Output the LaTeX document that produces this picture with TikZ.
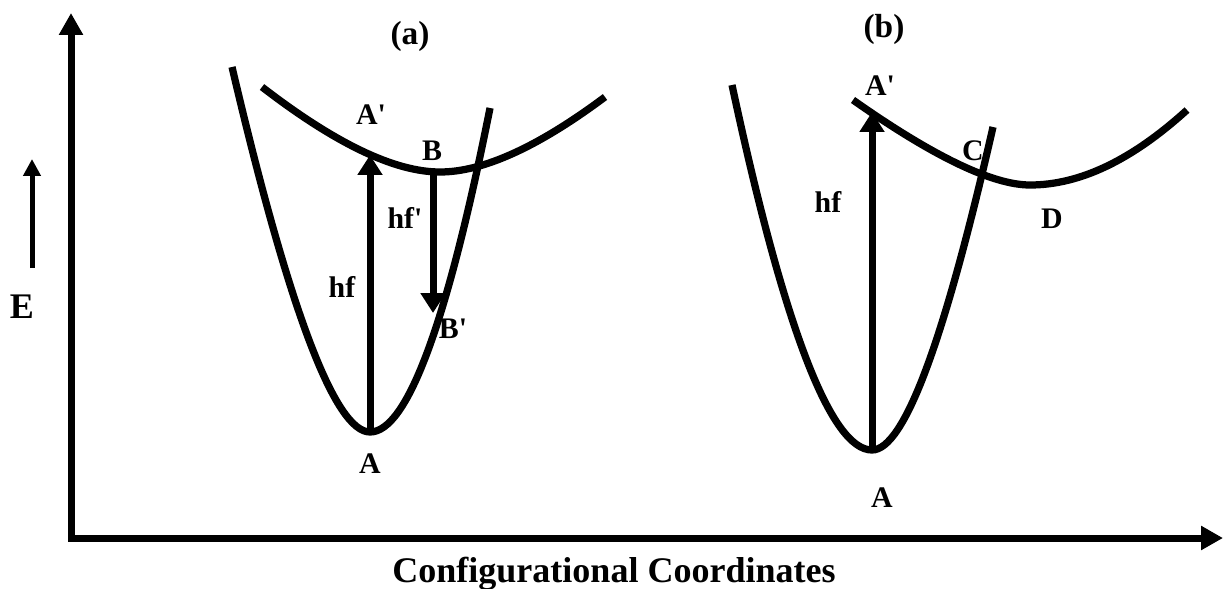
\documentclass[tikz,border=0pt]{standalone}
\usepackage{fontspec}
\setmainfont{Liberation Serif}
\usetikzlibrary{arrows.meta}

\begin{document}
\begin{tikzpicture}[
  x=0.02cm, y=-0.02cm,
  curve/.style={line width=1.45mm},
  axis/.style={line width=1.4mm, {Triangle[length=4.4mm, width=4.6mm]}-{Triangle[length=4.4mm, width=4.6mm]}},
  trans/.style={line width=1.4mm, -{Triangle[length=4mm, width=4.8mm]}},
  lbl/.style={font=\fontsize{17}{20}\selectfont\bfseries, anchor=base, inner sep=0pt},
  panel/.style={font=\fontsize{19}{23}\selectfont\bfseries, inner sep=0pt},
  big/.style={font=\fontsize{20.5}{24}\selectfont\bfseries, anchor=base, inner sep=0pt}]
\useasboundingbox (0,0) rectangle (1229,588);
% axes
\coordinate (origin) at (71,538);
\coordinate (ytop) at (71,13);
\coordinate (xend) at (1223,538);
\draw[axis] (ytop) -- (origin) -- (xend);
\coordinate (e-lo) at (32,268);
\coordinate (e-hi) at (32,159);
\draw[line width=1mm, -{Triangle[length=3.4mm, width=3.4mm]}] (e-lo) -- (e-hi);
\node[big] (elab) at (22,318) {E};
\node[big] (xlab) at (614,582) {Configurational Coordinates};
% (a) ground and excited state
\draw[curve] (232,67) .. controls (289,310) and (335,432) .. (370,432)
  .. controls (407,432) and (447,324) .. (490,108);
\draw[curve] (262,87) .. controls (336,144) and (395,172) .. (440,172)
  .. controls (483,172) and (538,147) .. (605,97);
% (b) ground and excited state
\draw[curve] (732,85) .. controls (784,328) and (831,450) .. (872,450)
  .. controls (904,450) and (944,342) .. (993,127);
\draw[curve] (853,100) .. controls (934,157) and (993,185) .. (1030,185)
  .. controls (1080,185) and (1132,160) .. (1187,110);
% transitions
\coordinate (a-min) at (370,432);
\coordinate (a-exc) at (370,155);
\coordinate (a-relax) at (433,172);
\coordinate (a-emit) at (433,313);
\coordinate (b-min) at (872,450);
\coordinate (b-exc) at (872,112);
\foreach \a/\b in {a-min/a-exc, a-relax/a-emit, b-min/b-exc} \draw[trans] (\a) -- (\b);
% labels
\node[panel] (pa) at (410,36) {(a)};
\node[panel] (pb) at (884,29) {(b)};
\node[lbl] (aAp) at (371,124) {A\textquotesingle};
\node[lbl] (aB) at (432,160) {B};
\node[lbl] (ahfp) at (405,228) {hf\textquotesingle};
\node[lbl] (ahf) at (342,297) {hf};
\node[lbl] (aBp) at (453,338) {B\textquotesingle};
\node[lbl] (aA) at (370,473) {A};
\node[lbl] (bAp) at (880,95) {A\textquotesingle};
\node[lbl] (bC) at (973,160) {C};
\node[lbl] (bhf) at (828,212) {hf};
\node[lbl] (bD) at (1052,228) {D};
\node[lbl] (bA) at (882,507) {A};
\end{tikzpicture}
\end{document}
